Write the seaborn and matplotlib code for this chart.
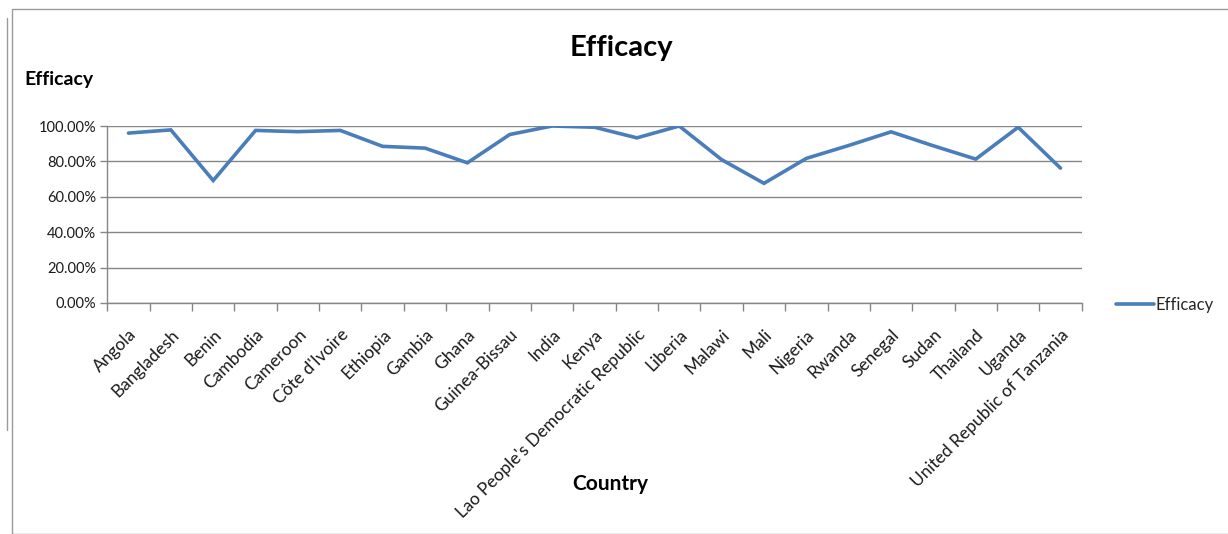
import matplotlib
matplotlib.use("Agg")
import matplotlib.pyplot as plt
import matplotlib.transforms as mtransforms
import seaborn as sns
import pandas as pd
from matplotlib.ticker import FuncFormatter, FixedLocator
from matplotlib.patches import Rectangle
from matplotlib.lines import Line2D

countries = ["Angola", "Bangladesh", "Benin", "Cambodia", "Cameroon", "Côte d'Ivoire",
             "Ethiopia", "Gambia", "Ghana", "Guinea-Bissau", "India", "Kenya",
             "Lao People's Democratic Republic", "Liberia", "Malawi", "Mali", "Nigeria",
             "Rwanda", "Senegal", "Sudan", "Thailand", "Uganda",
             "United Republic of Tanzania"]
efficacy = [0.960, 0.978, 0.692, 0.975, 0.968, 0.975, 0.885, 0.875, 0.792, 0.952,
            1.000, 0.993, 0.933, 1.000, 0.810, 0.676, 0.817, 0.890, 0.967, 0.888,
            0.813, 0.993, 0.762]
yticks = [0.0, 0.2, 0.4, 0.6, 0.8, 1.0]

sns.set_theme(style="white")
plt.rcParams['font.family'] = ['Lato', 'DejaVu Sans']

W, H = 1228, 534
fig = plt.figure(figsize=(W/100, H/100), dpi=100)
ax = fig.add_axes([107.3/W, 1-303/H, (1081.7-107.3)/W, (303-126)/H])

df = pd.DataFrame({"Country": countries, "Efficacy": efficacy})
df["pos"] = range(len(countries))
sns.lineplot(data=df, x="pos", y="Efficacy", ax=ax, color="#4A7EBB", linewidth=2.6,
             solid_joinstyle="miter", legend=False)

n = len(countries)
ax.set_xlim(-0.5, n - 0.5)
ax.set_ylim(0, 1.0)
ax.set_yticks(yticks)
ax.yaxis.set_major_formatter(FuncFormatter(lambda v, p: f"{v*100:.2f}%"))
ax.grid(axis="y", color="#868686", linewidth=1.0)
ax.grid(axis="x", visible=False)
ax.set_axisbelow(True)

ax.set_xticks(range(n))
ax.set_xticklabels(countries, rotation=45, ha="right", rotation_mode="anchor",
                   fontsize=12.5, color="#1a1a1a")
offset = mtransforms.ScaledTranslation(4/100, 0, fig.dpi_scale_trans)
for lab in ax.get_xticklabels():
    lab.set_transform(lab.get_transform() + offset)
ax.xaxis.set_minor_locator(FixedLocator([i - 0.5 for i in range(n + 1)]))
ax.tick_params(axis="x", which="major", length=0, pad=17)
ax.tick_params(axis="x", which="minor", length=6, width=1, color="#868686", direction="out", bottom=True)
ax.tick_params(axis="y", which="major", length=5, width=1, color="#868686", direction="out",
               left=True, labelsize=10.5, labelcolor="#1a1a1a", pad=3)
for s in ["top", "right"]:
    ax.spines[s].set_visible(False)
for s in ["left", "bottom"]:
    ax.spines[s].set_color("#868686")
    ax.spines[s].set_linewidth(1.0)
ax.set_xlabel("")
ax.set_ylabel("")

fig.text(621/W, 1-48/H, "Efficacy", ha="center", va="center", fontsize=21, fontweight="bold", color="black")
fig.text(24/W, 1-80/H, "Efficacy", ha="left", va="center", fontsize=14, fontweight="bold", color="black")
fig.text(610/W, 1-484/H, "Country", ha="center", va="center", fontsize=15, fontweight="bold", color="black")

handle = Line2D([], [], color="#4A7EBB", linewidth=2.6)
fig.legend([handle], ["Efficacy"], loc="center left", bbox_to_anchor=(1109/W, 1-305/H),
           frameon=False, handlelength=2.3, handletextpad=0.1, fontsize=12, borderaxespad=0)

# outer chart frames
fig.patches.append(Rectangle((12/W, 0), 1.2, 1-9/H, transform=fig.transFigure,
                             fill=False, edgecolor="#9a9a9a", linewidth=1.0))
fig.lines.append(Line2D([7/W, 7/W], [1-430/H, 1-18/H], transform=fig.transFigure,
                        color="#9a9a9a", linewidth=1.0))

fig.savefig("out.png", dpi=100)
